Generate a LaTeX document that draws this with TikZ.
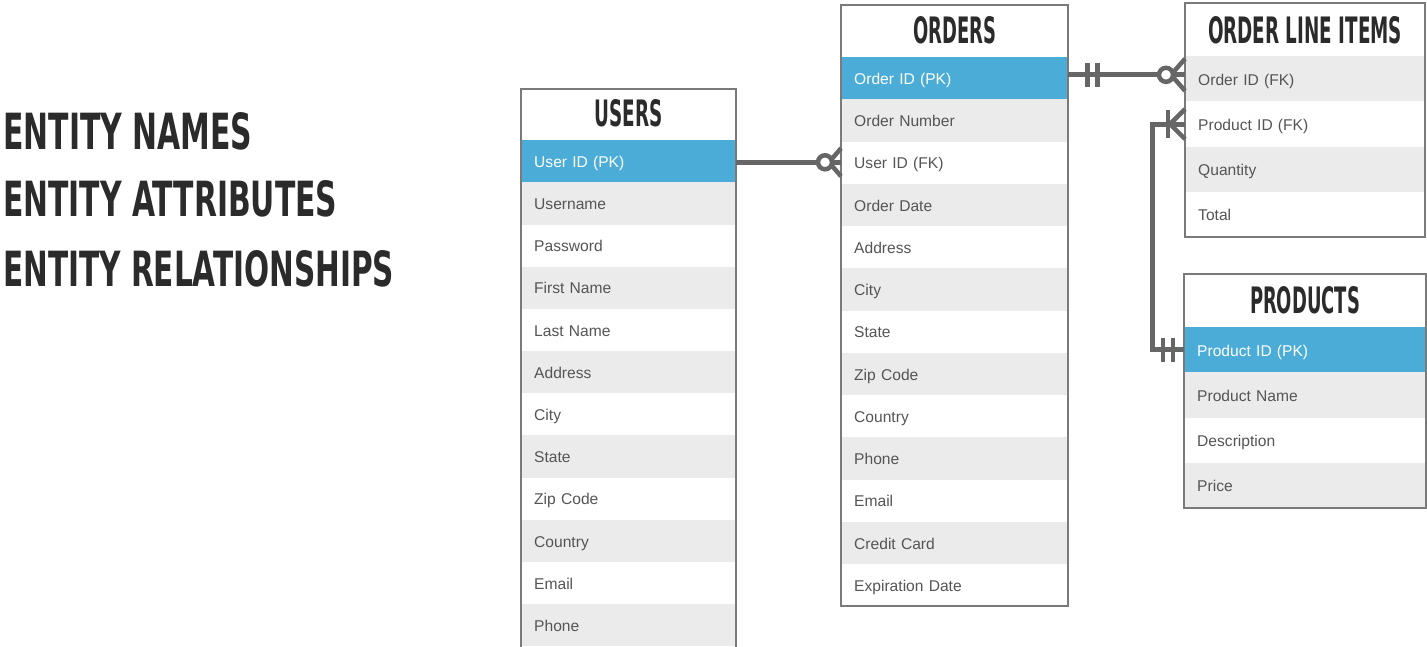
\documentclass[tikz,border=0pt]{standalone}
\usepackage{fontspec}
\usepackage{graphicx}
\setmainfont{Liberation Sans}
\newfontfamily\headfont{DejaVu Sans Condensed}
\usetikzlibrary{calc}
\definecolor{linegray}{HTML}{666666}
\definecolor{framegray}{HTML}{7A7A7A}
\definecolor{rowgray}{HTML}{EBEBEB}
\definecolor{pkblue}{HTML}{4BADD7}
\definecolor{txtgray}{HTML}{555555}
\definecolor{headink}{HTML}{2B2B2B}
\tikzset{
  rowbox/.style={rectangle, anchor=north west, inner xsep=13pt, inner ysep=0pt,
    draw=none, align=left, text height=14pt, text depth=1.6pt,
    font=\fontsize{15.6}{18}\selectfont},
  headtxt/.style={inner sep=0pt, text=headink},
  frame/.style={draw=framegray, line width=2pt},
  rel/.style={draw=linegray, line width=5pt},
  relthin/.style={draw=linegray, line width=4.5pt},
}
\newcommand\rowcolors[1]{%
  \ifnum#1=1 \def\rowfill{pkblue}\def\rowtext{white}%
  \else\ifodd#1 \def\rowfill{white}\else\def\rowfill{rowgray}\fi\def\rowtext{txtgray}\fi}
\begin{document}
\begin{tikzpicture}[x=1pt,y=-1pt]
\useasboundingbox (0,0) rectangle (1427,647);

% left titles
\node[headtxt, anchor=south west] (t1) at (3,150) {\resizebox{249pt}{37pt}{\headfont\bfseries ENTITY NAMES}};
\node[headtxt, anchor=south west] (t2) at (3,217) {\resizebox{334pt}{36pt}{\headfont\bfseries ENTITY ATTRIBUTES}};
\node[headtxt, anchor=south west] (t3) at (3,287) {\resizebox{391pt}{36pt}{\headfont\bfseries ENTITY RELATIONSHIPS}};

% USERS
\fill[white] (521,89) rectangle (736,140);
\foreach \t [count=\i] in {User ID (PK),Username,Password,First Name,Last Name,Address,City,State,Zip Code,Country,Email,Phone}{
  \rowcolors{\i}
  \node[rowbox, fill=\rowfill, text=\rowtext, text width=189pt, minimum height=42.17pt] (u-\i) at (521,{140+(\i-1)*42.17}) {\t};
}
\node[headtxt] (uh) at (628.5,113.5) {\resizebox{68pt}{27pt}{\headfont\bfseries USERS}};
\draw[frame] (521,89) rectangle (736,649);

% ORDERS
\fill[white] (841,5) rectangle (1068,57);
\foreach \t [count=\i] in {Order ID (PK),Order Number,User ID (FK),Order Date,Address,City,State,Zip Code,Country,Phone,Email,Credit Card,Expiration Date}{
  \rowcolors{\i}
  \node[rowbox, fill=\rowfill, text=\rowtext, text width=201pt, minimum height=42.23pt] (o-\i) at (841,{57+(\i-1)*42.23}) {\t};
}
\node[headtxt] (oh) at (954.5,30.5) {\resizebox{83pt}{27pt}{\headfont\bfseries ORDERS}};
\draw[frame] (841,5) rectangle (1068,606);

% ORDER LINE ITEMS
\fill[white] (1185,3) rectangle (1425,56);
\foreach \t [count=\i] in {Order ID (FK),Product ID (FK),Quantity,Total}{
  \ifodd\i \def\rowfill{rowgray}\else\def\rowfill{white}\fi
  \node[rowbox, fill=\rowfill, text=txtgray, text width=214pt, minimum height=45.25pt] (l-\i) at (1185,{56+(\i-1)*45.25}) {\t};
}
\node[headtxt] (lh) at (1305,30) {\resizebox{194pt}{27pt}{\headfont\bfseries ORDER LINE ITEMS}};
\draw[frame] (1185,3) rectangle (1425,237);

% PRODUCTS
\fill[white] (1184,274) rectangle (1426,327);
\foreach \t [count=\i] in {Product ID (PK),Product Name,Description,Price}{
  \rowcolors{\i}
  \node[rowbox, fill=\rowfill, text=\rowtext, text width=216pt, minimum height=45.25pt] (p-\i) at (1184,{327+(\i-1)*45.25}) {\t};
}
\node[headtxt] (ph) at (1305,300.5) {\resizebox{110pt}{27pt}{\headfont\bfseries PRODUCTS}};
\draw[frame] (1184,274) rectangle (1426,508);

% USERS -> ORDERS (one to zero-or-many)
\coordinate (b1) at ($(u-1.east)+(0,1)$);
\coordinate (b2) at (b1 -| o-3.west);
\draw[rel] (b1) -- (b2);
\draw[relthin] ($(b2)+(-12,0)$) -- ($(b2)+(0,-14)$);
\draw[relthin] ($(b2)+(-12,0)$) -- ($(b2)+(0,14)$);
\draw[relthin, fill=white] ($(b2)+(-16,0)$) circle[radius=7pt];

% ORDERS -> ORDER LINE ITEMS (one-and-only-one to zero-or-many)
\coordinate (a1) at ($(o-1.east)+(0,-3.5)$);
\coordinate (a2) at (a1 -| l-1.west);
\draw[rel] (a1) -- (a2);
\draw[relthin] ($(a1)+(19,-12)$) -- ($(a1)+(19,12)$);
\draw[relthin] ($(a1)+(29,-12)$) -- ($(a1)+(29,12)$);
\draw[relthin] ($(a2)+(-14,0)$) -- ($(a2)+(0,-16)$);
\draw[relthin] ($(a2)+(-14,0)$) -- ($(a2)+(0,16)$);
\draw[relthin, fill=white] ($(a2)+(-19,0)$) circle[radius=7pt];

% PRODUCTS -> ORDER LINE ITEMS (one-and-only-one to one-or-many)
\draw[rel] (l-2.west) -| ($(p-1.west)+(-32,0)$) -- (p-1.west);
\draw[relthin] ($(l-2.west)+(-17,-14)$) -- ($(l-2.west)+(-17,14)$);
\draw[relthin] ($(l-2.west)+(-15,0)$) -- ($(l-2.west)+(0,-15)$);
\draw[relthin] ($(l-2.west)+(-15,0)$) -- ($(l-2.west)+(0,15)$);
\draw[relthin] ($(p-1.west)+(-21,-12)$) -- ($(p-1.west)+(-21,12)$);
\draw[relthin] ($(p-1.west)+(-11,-12)$) -- ($(p-1.west)+(-11,12)$);
\end{tikzpicture}
\end{document}
